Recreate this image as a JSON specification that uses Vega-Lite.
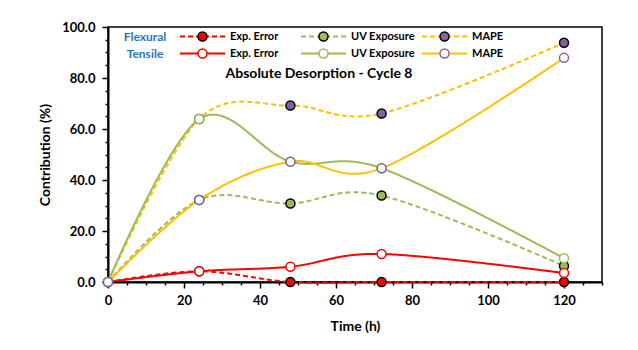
{
  "$schema": "https://vega.github.io/schema/vega-lite/v6.json",
  "autosize": {"type": "none"},
  "padding": {"left": 108, "top": 27, "right": 36, "bottom": 68},
  "width": 494,
  "height": 255,
  "background": "white",
  "config": {
    "view": {"stroke": "black", "strokeWidth": 1.5},
    "font": "Lato"
  },
  "title": {
    "text": "Absolute Desorption - Cycle 8",
    "frame": "group",
    "anchor": "middle",
    "orient": "top",
    "offset": -67,
    "baseline": "middle",
    "dx": -36,
    "font": "Lato",
    "fontSize": 14,
    "fontWeight": "bold",
    "color": "black"
  },
  "data": {
    "values": [
      {"series": "Flexural Exp. Error", "t": 0, "v": 0},
      {"series": "Flexural Exp. Error", "t": 24, "v": 4.2},
      {"series": "Flexural Exp. Error", "t": 48, "v": 0},
      {"series": "Flexural Exp. Error", "t": 72, "v": 0},
      {"series": "Flexural Exp. Error", "t": 120, "v": 0},
      {"series": "Flexural UV Exposure", "t": 0, "v": 0},
      {"series": "Flexural UV Exposure", "t": 24, "v": 32.2},
      {"series": "Flexural UV Exposure", "t": 48, "v": 30.8},
      {"series": "Flexural UV Exposure", "t": 72, "v": 33.9},
      {"series": "Flexural UV Exposure", "t": 120, "v": 6.3},
      {"series": "Flexural MAPE", "t": 0, "v": 0},
      {"series": "Flexural MAPE", "t": 24, "v": 63.9},
      {"series": "Flexural MAPE", "t": 48, "v": 69.2},
      {"series": "Flexural MAPE", "t": 72, "v": 66.1},
      {"series": "Flexural MAPE", "t": 120, "v": 93.8},
      {"series": "Tensile Exp. Error", "t": 0, "v": 0},
      {"series": "Tensile Exp. Error", "t": 24, "v": 4.2},
      {"series": "Tensile Exp. Error", "t": 48, "v": 6.0},
      {"series": "Tensile Exp. Error", "t": 72, "v": 11.0},
      {"series": "Tensile Exp. Error", "t": 120, "v": 3.5},
      {"series": "Tensile UV Exposure", "t": 0, "v": 0},
      {"series": "Tensile UV Exposure", "t": 24, "v": 63.9},
      {"series": "Tensile UV Exposure", "t": 48, "v": 47.2},
      {"series": "Tensile UV Exposure", "t": 72, "v": 44.6},
      {"series": "Tensile UV Exposure", "t": 120, "v": 9.3},
      {"series": "Tensile MAPE", "t": 0, "v": 0},
      {"series": "Tensile MAPE", "t": 24, "v": 32.2},
      {"series": "Tensile MAPE", "t": 48, "v": 47.2},
      {"series": "Tensile MAPE", "t": 72, "v": 44.6},
      {"series": "Tensile MAPE", "t": 120, "v": 87.9}
    ]
  },
  "encoding": {
    "x": {
      "field": "t",
      "type": "quantitative",
      "scale": {"domain": [0, 130], "nice": false, "zero": false},
      "axis": {
        "values": [0, 5, 10, 15, 20, 25, 30, 35, 40, 45, 50, 55, 60, 65, 70, 75, 80, 85, 90, 95, 100, 105, 110, 115, 120, 125, 130],
        "labelExpr": "datum.value % 20 === 0 ? datum.label : ''",
        "tickSize": {"condition": {"test": "datum.value % 20 === 0", "value": 6}, "value": 3},
        "grid": false,
        "domainColor": "black",
        "domainWidth": 2,
        "tickColor": "black",
        "tickWidth": 1.5,
        "labelFont": "Lato",
        "labelFontSize": 13,
        "labelFontWeight": "bold",
        "labelColor": "black",
        "labelPadding": 6,
        "labelFlush": false,
        "labelOverlap": false,
        "title": "Time (h)",
        "titleFont": "Lato",
        "titleFontSize": 14,
        "titleFontWeight": "bold",
        "titleColor": "black",
        "titlePadding": 12
      }
    },
    "y": {
      "field": "v",
      "type": "quantitative",
      "scale": {"domain": [0, 100], "nice": false},
      "axis": {
        "values": [0, 5, 10, 15, 20, 25, 30, 35, 40, 45, 50, 55, 60, 65, 70, 75, 80, 85, 90, 95, 100],
        "labelExpr": "datum.value % 20 === 0 ? format(datum.value, '.1f') : ''",
        "tickSize": {"condition": {"test": "datum.value % 20 === 0", "value": 6}, "value": 3},
        "grid": false,
        "domainColor": "black",
        "domainWidth": 2,
        "tickColor": "black",
        "tickWidth": 1.5,
        "labelFont": "Lato",
        "labelFontSize": 13,
        "labelFontWeight": "bold",
        "labelColor": "black",
        "labelPadding": 7,
        "labelFlush": false,
        "labelOverlap": false,
        "title": "Contribution (%)",
        "titleFont": "Lato",
        "titleFontSize": 14,
        "titleFontWeight": "bold",
        "titleColor": "black",
        "titlePadding": 9
      }
    }
  },
  "layer": [
    {
      "transform": [{"filter": "datum.v >= 0"}],
      "mark": {"type": "line", "interpolate": "cardinal", "strokeWidth": 2, "clip": false},
      "encoding": {
        "color": {
          "field": "series",
          "type": "nominal",
          "sort": null,
          "scale": {"range": ["#FF0000", "#9BBB59", "#FFC000", "#FF0000", "#9BBB59", "#FFC000"]},
          "legend": {
            "orient": "none", "legendX": 16, "legendY": 3, "direction": "horizontal", "columns": 3,
            "gridAlign": "all", "columnPadding": 6, "rowPadding": 4, "padding": 0, "clipHeight": 13,
            "symbolType": "stroke", "symbolSize": 2025, "symbolStrokeWidth": 2,
            "labelExpr": "slice(datum.label, indexof(datum.label, ' ') + 1)",
            "labelFont": "Lato", "labelFontSize": 11, "labelFontWeight": "bold", "labelColor": "black", "labelOffset": 4,
            "title": ["Flexural", "Tensile"], "titleOrient": "left", "titleColor": "#2E75B6", "titleFont": "Lato",
            "titleFontSize": 12, "titleFontWeight": "bold", "titleLineHeight": 17, "titleAlign": "center", "titlePadding": -9
          }
        },
        "strokeDash": {
          "field": "series",
          "type": "nominal",
          "sort": null,
          "scale": {"range": [[5, 3], [5, 3], [5, 3], [1, 0], [1, 0], [1, 0]]},
          "legend": {
            "orient": "none", "legendX": 16, "legendY": 3, "direction": "horizontal", "columns": 3,
            "gridAlign": "all", "columnPadding": 6, "rowPadding": 4, "padding": 0, "clipHeight": 13,
            "symbolType": "stroke", "symbolSize": 2025, "symbolStrokeWidth": 2,
            "labelExpr": "slice(datum.label, indexof(datum.label, ' ') + 1)",
            "labelFont": "Lato", "labelFontSize": 11, "labelFontWeight": "bold", "labelColor": "black", "labelOffset": 4,
            "title": ["Flexural", "Tensile"], "titleOrient": "left", "titleColor": "#2E75B6", "titleFont": "Lato",
            "titleFontSize": 12, "titleFontWeight": "bold", "titleLineHeight": 17, "titleAlign": "center", "titlePadding": -9
          }
        }
      }
    },
    {
      "mark": {"type": "point", "filled": true, "size": 81, "strokeWidth": 1.5, "opacity": 1, "clip": false},
      "encoding": {
        "fill": {
          "field": "series",
          "type": "nominal",
          "sort": null,
          "scale": {"range": ["#FF0000", "#9BBB59", "#8064A2", "#FFFFFF", "#FFFFFF", "#FFFFFF"]},
          "legend": {
            "orient": "none", "legendX": 16, "legendY": 3, "direction": "horizontal", "columns": 3,
            "gridAlign": "all", "columnPadding": 6, "rowPadding": 4, "padding": 0, "clipHeight": 13,
            "symbolType": "M0.2,0A0.2,0.2,0,1,1,-0.2,0A0.2,0.2,0,1,1,0.2,0Z", "symbolSize": 2025, "symbolStrokeWidth": 1.5,
            "labelExpr": "slice(datum.label, indexof(datum.label, ' ') + 1)", "labelOpacity": 0,
            "labelFont": "Lato", "labelFontSize": 11, "labelFontWeight": "bold", "labelColor": "black", "labelOffset": 4,
            "title": ["Flexural", "Tensile"], "titleOpacity": 0, "titleOrient": "left", "titleColor": "#2E75B6", "titleFont": "Lato",
            "titleFontSize": 12, "titleFontWeight": "bold", "titleLineHeight": 17, "titleAlign": "center", "titlePadding": -9
          }
        },
        "stroke": {
          "field": "series",
          "type": "nominal",
          "sort": null,
          "scale": {"range": ["#000000", "#000000", "#000000", "#FF0000", "#9BBB59", "#8064A2"]},
          "legend": {
            "orient": "none", "legendX": 16, "legendY": 3, "direction": "horizontal", "columns": 3,
            "gridAlign": "all", "columnPadding": 6, "rowPadding": 4, "padding": 0, "clipHeight": 13,
            "symbolType": "M0.2,0A0.2,0.2,0,1,1,-0.2,0A0.2,0.2,0,1,1,0.2,0Z", "symbolSize": 2025, "symbolStrokeWidth": 1.5,
            "labelExpr": "slice(datum.label, indexof(datum.label, ' ') + 1)", "labelOpacity": 0,
            "labelFont": "Lato", "labelFontSize": 11, "labelFontWeight": "bold", "labelColor": "black", "labelOffset": 4,
            "title": ["Flexural", "Tensile"], "titleOpacity": 0, "titleOrient": "left", "titleColor": "#2E75B6", "titleFont": "Lato",
            "titleFontSize": 12, "titleFontWeight": "bold", "titleLineHeight": 17, "titleAlign": "center", "titlePadding": -9
          }
        }
      }
    }
  ]
}
